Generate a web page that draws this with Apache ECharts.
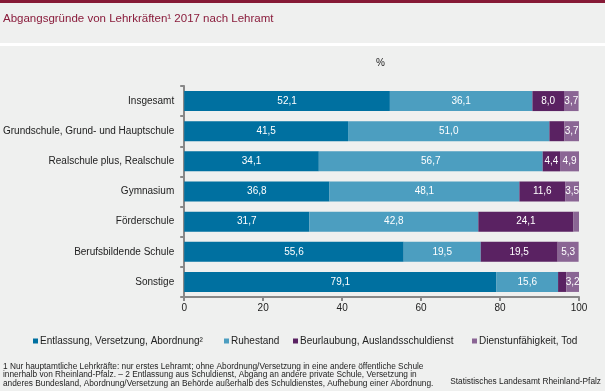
<!DOCTYPE html>
<html>
<head>
<meta charset="utf-8">
<script src="https://cdn.jsdelivr.net/npm/echarts@6/dist/echarts.min.js"></script>
<style>html,body{margin:0;padding:0;background:#eff0ef;}#c{width:605px;height:391px;}</style>
</head>
<body>
<div id="c"></div>
<script>
const categories = ["Insgesamt", "Grundschule, Grund- und Hauptschule", "Realschule plus, Realschule", "Gymnasium", "Förderschule", "Berufsbildende Schule", "Sonstige"];
const seriesNames = ["Entlassung, Versetzung, Abordnung²", "Ruhestand", "Beurlaubung, Auslandsschuldienst", "Dienstunfähigkeit, Tod"];
const entlassung = [52.1, 41.5, 34.1, 36.8, 31.7, 55.6, 79.1];
const ruhestand = [36.1, 51.0, 56.7, 48.1, 42.8, 19.5, 15.6];
const beurlaubung = [8.0, 3.8, 4.4, 11.6, 24.1, 19.5, 2.1];
const dienstunfaehig = [3.7, 3.7, 4.9, 3.5, 1.4, 5.3, 3.2];
// which value labels are printed in the original (per series, per category)
const showLabel = [
  [1, 1, 1, 1, 1, 1, 1],
  [1, 1, 1, 1, 1, 1, 1],
  [1, 0, 1, 1, 1, 1, 0],
  [1, 1, 1, 1, 0, 1, 1]
];
const xTicks = [0, 20, 40, 60, 80, 100];
const colors = ["#0070a0", "#4c9ec0", "#5a2262", "#8a6594"];
const footnotes = [
  "1 Nur hauptamtliche Lehrkräfte: nur erstes Lehramt; ohne Abordnung/Versetzung in eine andere öffentliche Schule",
  "innerhalb von Rheinland-Pfalz. – 2 Entlassung aus Schuldienst, Abgang an andere private Schule, Versetzung in",
  "anderes Bundesland, Abordnung/Versetzung an Behörde außerhalb des Schuldienstes, Aufhebung einer Abordnung."
];
const source = "Statistisches Landesamt Rheinland-Pfalz";

const allData = [entlassung, ruhestand, beurlaubung, dienstunfaehig];
const chart = echarts.init(document.getElementById('c'));
const FONT = "Liberation Sans";
const legendLefts = [33, 224, 293, 472];
chart.setOption({
  backgroundColor: "#eff0ef",
  animation: false,
  color: colors,
  title: {
    text: "Abgangsgründe von Lehrkräften¹ 2017 nach Lehramt",
    left: 3, top: 13, padding: 0,
    textStyle: {fontFamily: FONT, fontSize: 11.5, fontWeight: "normal", color: "#8a1c3c"}
  },
  graphic: [
    {type: "rect", shape: {x: 0, y: 0, width: 605, height: 3}, style: {fill: "#861a36"}},
    {type: "rect", shape: {x: 0, y: 43, width: 605, height: 3}, style: {fill: "#ffffff"}},
    {type: "text", left: 376, top: 58, style: {text: "%", font: "10px " + FONT, fill: "#222"}},
    {type: "text", left: 3, top: 362, style: {text: footnotes.join("\n"), font: "8.3px " + FONT, fill: "#222", lineHeight: 8.7}},
    {type: "text", right: 4, top: 378, style: {text: source, font: "8.3px " + FONT, fill: "#222"}}
  ],
  legend: seriesNames.map((n, i) => ({
    data: [n],
    left: legendLefts[i], top: 336, padding: 0,
    icon: "rect", itemWidth: 5, itemHeight: 5,
    textStyle: {fontFamily: FONT, fontSize: 10, color: "#222", padding: [0, 0, 0, -3]}
  })),
  grid: {left: 181, right: 26, top: 86, bottom: 94, containLabel: false},
  xAxis: {
    type: "value", min: 0, max: 100, interval: 20,
    splitLine: {show: false},
    axisLine: {show: true, lineStyle: {color: "#888", width: 2}},
    axisTick: {show: true, length: 4, lineStyle: {color: "#888", width: 2}},
    axisLabel: {fontFamily: FONT, fontSize: 10, color: "#222", margin: 6, customValues: xTicks}
  },
  yAxis: {
    type: "category", data: categories, inverse: true,
    axisLine: {show: true, lineStyle: {color: "#888", width: 2}},
    axisTick: {show: true, length: 4, lineStyle: {color: "#888", width: 2}},
    axisLabel: {fontFamily: FONT, fontSize: 10, color: "#222", margin: 10}
  },
  series: allData.map((d, i) => ({
    name: seriesNames[i], type: "bar", stack: "s", data: d,
    barWidth: 20,
    label: {
      show: true, position: "inside", color: "#fff", fontFamily: FONT, fontSize: 10,
      formatter: p => showLabel[i][p.dataIndex] ? p.value.toFixed(1).replace(".", ",") : ""
    }
  }))
});
</script>
</body>
</html>
